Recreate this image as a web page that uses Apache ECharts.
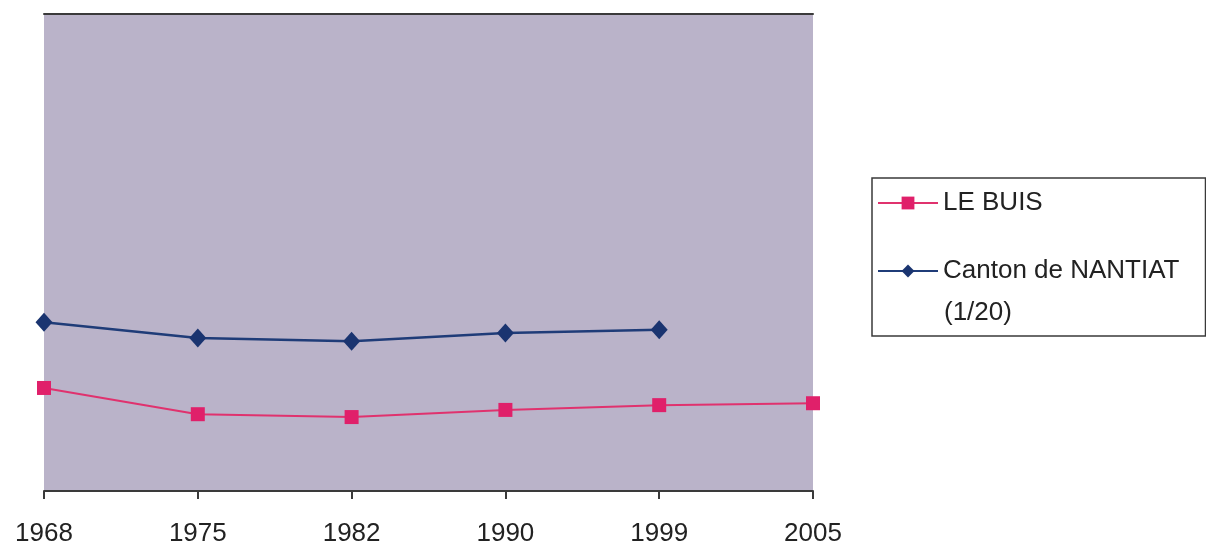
<!DOCTYPE html>
<html>
<head>
<meta charset="utf-8">
<script src="https://cdn.jsdelivr.net/npm/echarts@6/dist/echarts.min.js"></script>
<style>
html,body{margin:0;padding:0;background:#fff;}
#chart{width:1206px;height:547px;}
</style>
</head>
<body>
<div id="chart"></div>
<script>
const years = ['1968', '1975', '1982', '1990', '1999', '2005'];
const leBuis = [216, 161, 155, 170, 180, 184];
const cantonNantiat = [354, 321, 314, 331, 338, null];
const seriesNames = ['LE BUIS', 'Canton de NANTIAT'];
const legendSuffix = '(1/20)';

const chart = echarts.init(document.getElementById('chart'));
const font = 'Liberation Sans, Arial, sans-serif';
chart.setOption({
  animation: false,
  grid: {
    left: 44, right: 393, top: 14, bottom: 56,
    show: true, backgroundColor: '#bab3c9', borderWidth: 0
  },
  xAxis: [{
    type: 'category',
    data: years,
    boundaryGap: false,
    axisLine: {lineStyle: {color: '#3a3a3a', width: 2}},
    axisTick: {show: true, inside: false, length: 8, lineStyle: {color: '#3a3a3a', width: 2}},
    axisLabel: {fontSize: 26, color: '#222', fontFamily: font, margin: 30},
    splitLine: {show: false}
  }, {
    type: 'category',
    data: years,
    position: 'top',
    boundaryGap: false,
    axisLine: {lineStyle: {color: '#3a3a3a', width: 2}},
    axisTick: {show: false},
    axisLabel: {show: false}
  }],
  yAxis: {
    type: 'value', min: 0, max: 1000,
    show: false,
    splitLine: {show: false}
  },
  legend: {
    orient: 'vertical',
    left: 872, top: 178,
    padding: [9, 26, 49, 5],
    itemGap: 36,
    itemWidth: 60, itemHeight: 16,
    borderColor: '#3a3a3a', borderWidth: 1.5,
    backgroundColor: '#fff',
    textStyle: {fontSize: 26, color: '#222', fontFamily: font, lineHeight: 32},
    data: seriesNames
  },
  graphic: [{
    type: 'text',
    left: 944, top: 300,
    z: 100, zlevel: 1,
    style: {text: legendSuffix, fontSize: 26, fill: '#222', fontFamily: font}
  }],
  series: [{
    name: seriesNames[0],
    type: 'line',
    data: leBuis,
    symbol: 'rect', symbolSize: 14,
    lineStyle: {color: '#e0326e', width: 2},
    itemStyle: {color: '#e0206a'}
  }, {
    name: seriesNames[1],
    type: 'line',
    data: cantonNantiat,
    symbol: 'diamond', symbolSize: [17, 19],
    lineStyle: {color: '#1f3c78', width: 2.5},
    itemStyle: {color: '#1a3470'}
  }]
});
</script>
</body>
</html>
